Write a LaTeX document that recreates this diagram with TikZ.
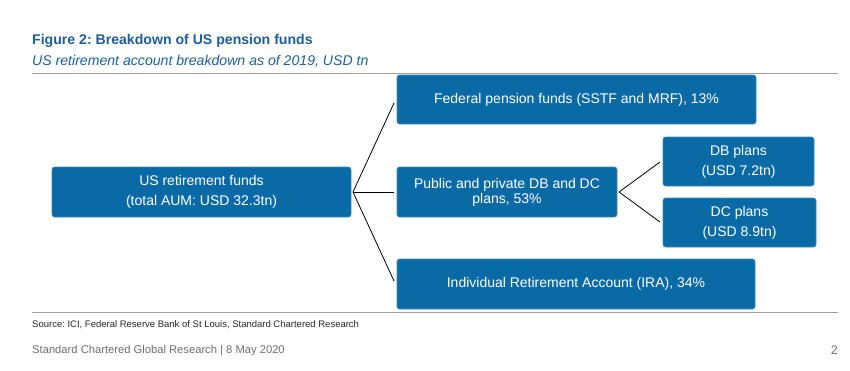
\documentclass[tikz,border=0pt]{standalone}
\usepackage{fontspec}
\setmainfont{Liberation Sans}
\frenchspacing
\definecolor{boxblue}{HTML}{0A6AA6}
\definecolor{titleblue}{HTML}{1B5E9E}
\definecolor{rulegray}{HTML}{A0A0A0}
\definecolor{footgray}{HTML}{6E6E6E}
\begin{document}
\begin{tikzpicture}[x=1pt,y=-1pt,
  bx/.style={fill=boxblue,draw=boxblue!80!white,line width=0.6pt,rounded corners=2.5pt,text=white,font=\fontsize{14}{20}\selectfont,align=center,inner sep=0pt},
  conn/.style={draw=black,line width=0.8pt}]
\useasboundingbox (0,0) rectangle (850,370);
% titles
\node[anchor=base west,inner sep=0pt,text=titleblue,font=\bfseries\fontsize{14.1}{16}\selectfont] (title) at (32,44) {Figure 2: Breakdown of US pension funds};
\node[anchor=base west,inner sep=0pt,text=titleblue,font=\itshape\fontsize{14.1}{16}\selectfont] (sub) at (32,65) {US retirement account breakdown as of 2019, USD tn};
\draw[rulegray,line width=0.8pt] (32,73) -- (838,73);
\draw[rulegray,line width=0.8pt] (32,312) -- (838,312);
% boxes
\node[bx,minimum width=299pt,minimum height=50pt] (root) at (201.5,192) {US retirement funds\\(total AUM: USD 32.3tn)};
\node[bx,minimum width=359pt,minimum height=49pt] (fed) at (576.5,99.5) {Federal pension funds (SSTF and MRF), 13\%};
\node[bx,minimum width=220pt,minimum height=50pt,font=\fontsize{14}{15}\selectfont] (pub) at (507,192) {Public and private DB and DC\\plans, 53\%};
\node[bx,minimum width=151pt,minimum height=49pt] (db) at (738.5,161.5) {DB plans\\(USD 7.2tn)};
\node[bx,minimum width=153pt,minimum height=49pt] (dc) at (739.5,222.5) {DC plans\\(USD 8.9tn)};
\node[bx,minimum width=358pt,minimum height=50pt] (ira) at (576,284) {Individual Retirement Account (IRA), 34\%};
% connector ends
\coordinate (r0) at (353,192);
\coordinate (f1) at (394,103);
\coordinate (p1) at (394,192);
\coordinate (i1) at (394,281);
\coordinate (q0) at (619,192);
\coordinate (d1) at (660,162);
\coordinate (c1) at (660,222);
\draw[conn] (f1) -- (r0) -- (i1);
\draw[conn] (r0) -- (p1);
\draw[conn] (d1) -- (q0) -- (c1);
% footer
\node[anchor=base west,inner sep=0pt,text=black!85,font=\fontsize{9.5}{11}\selectfont] (src) at (32,327) {Source: ICI, Federal Reserve Bank of St Louis, Standard Chartered Research};
\node[anchor=base west,inner sep=0pt,text=footgray,font=\fontsize{11.2}{13}\selectfont] (foot) at (32,353) {Standard Chartered Global Research | 8 May 2020};
\node[anchor=base east,inner sep=0pt,text=footgray,font=\fontsize{12.5}{13}\selectfont] (pg) at (838,354) {2};
\end{tikzpicture}
\end{document}
